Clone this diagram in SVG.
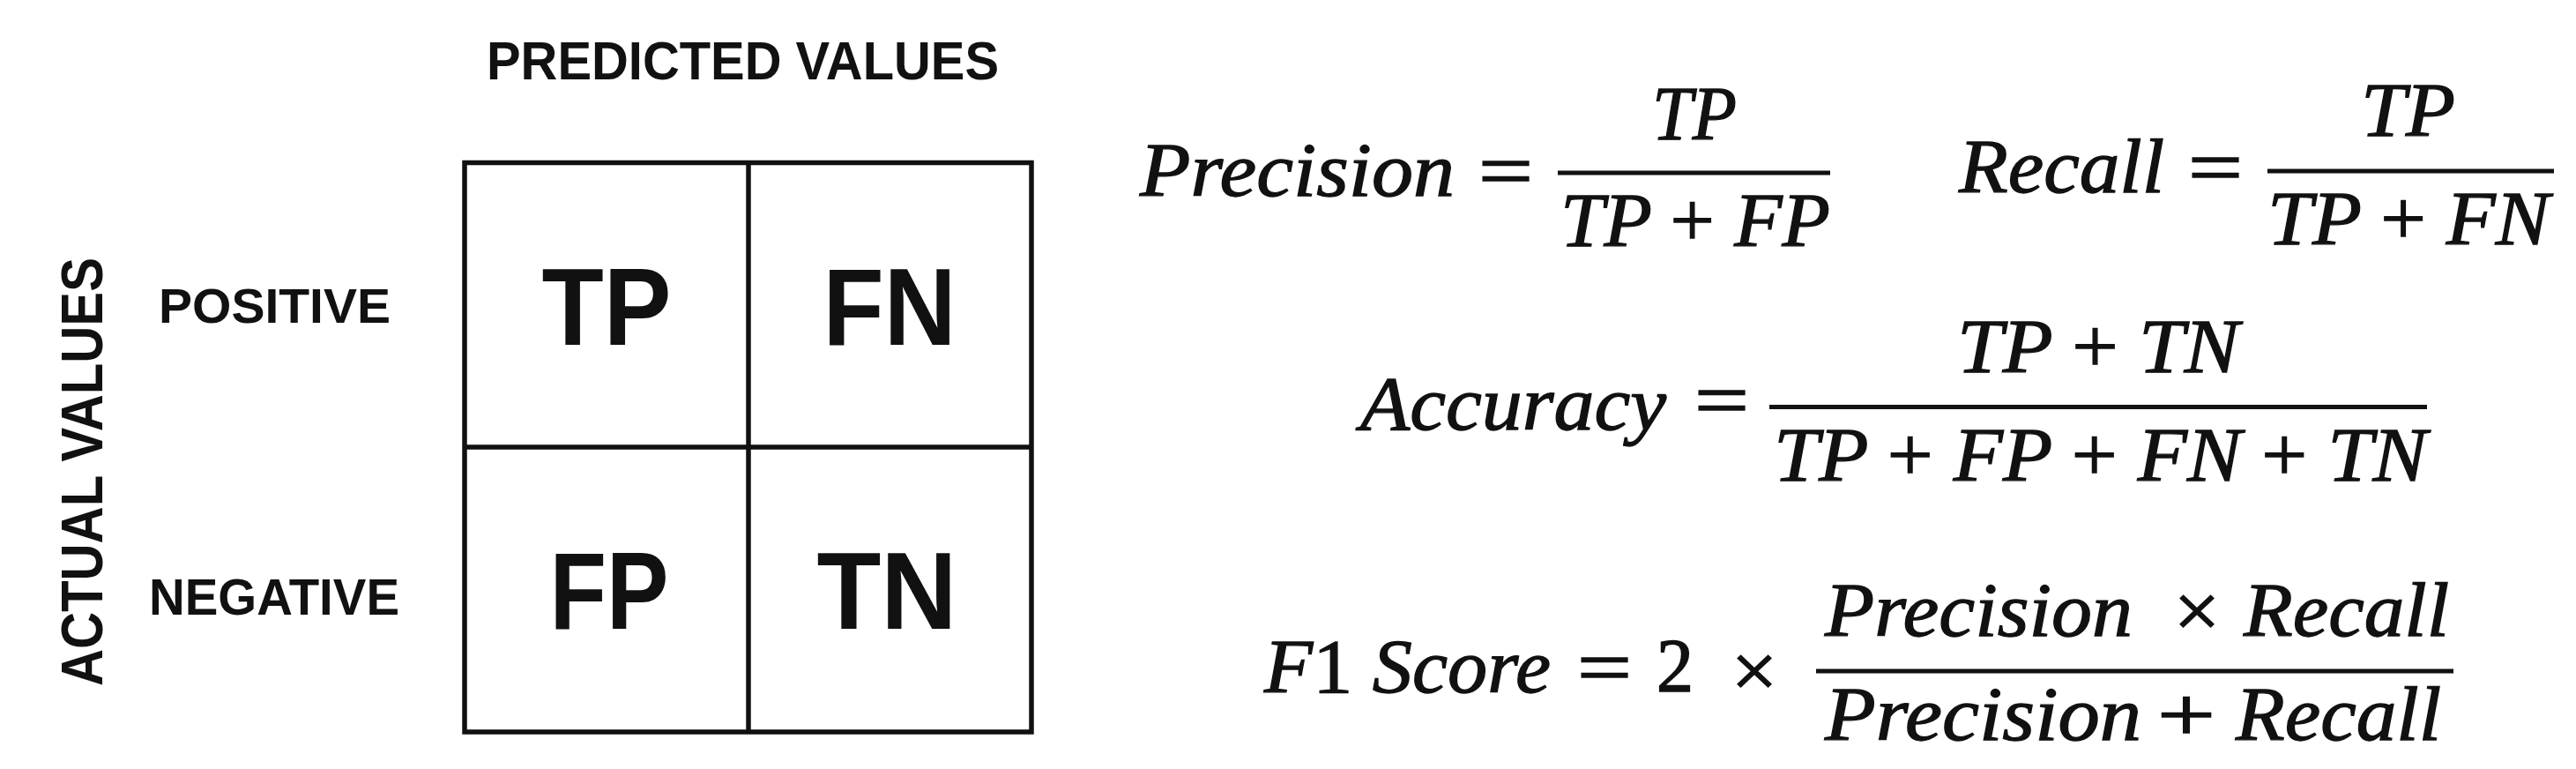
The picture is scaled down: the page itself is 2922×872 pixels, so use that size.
<svg xmlns="http://www.w3.org/2000/svg" width="2922" height="872" viewBox="0 0 2922 872">
<style>
.lab{font-family:"Liberation Sans",Arial,sans-serif;font-weight:bold;fill:#111}
.cell{font-family:"Liberation Sans",Arial,sans-serif;font-weight:bold;font-size:124px;fill:#111;text-anchor:middle}
.m{font-family:"Liberation Serif","Times New Roman",serif;font-style:italic;font-size:87px;fill:#111;stroke:#111;stroke-width:1.3}
.op{font-family:"Liberation Serif","Times New Roman",serif;font-style:normal;font-size:87px;fill:#111;stroke:#111;stroke-width:1.6;text-anchor:middle}
.grid{stroke:#111;stroke-width:5.5;fill:none}
.bar{fill:#111}
</style>
<rect x="0" y="0" width="2922" height="872" fill="#fff"/>

<g id="axis-labels">
<text class="lab" x="552" y="90" font-size="61" textLength="581" lengthAdjust="spacingAndGlyphs">PREDICTED VALUES</text>
<text class="lab" font-size="67" transform="translate(116,778) rotate(-90)" textLength="486" lengthAdjust="spacingAndGlyphs">ACTUAL VALUES</text>
<text class="lab" x="180" y="366" font-size="55" textLength="263" lengthAdjust="spacingAndGlyphs">POSITIVE</text>
<text class="lab" x="169" y="697" font-size="57" textLength="284" lengthAdjust="spacingAndGlyphs">NEGATIVE</text>
</g>

<g id="matrix">
<rect class="grid" x="527" y="184.5" width="643" height="645.5"/>
<line class="grid" x1="849" y1="184.5" x2="849" y2="830"/>
<line class="grid" x1="527" y1="507" x2="1170" y2="507"/>
</g>

<g id="cell-tp"><text class="cell" x="688" y="391" textLength="147" lengthAdjust="spacingAndGlyphs">TP</text></g>
<g id="cell-fn"><text class="cell" x="1009" y="391" textLength="151" lengthAdjust="spacingAndGlyphs">FN</text></g>
<g id="cell-fp"><text class="cell" x="691" y="713" textLength="135" lengthAdjust="spacingAndGlyphs">FP</text></g>
<g id="cell-tn"><text class="cell" x="1006" y="713" textLength="159" lengthAdjust="spacingAndGlyphs">TN</text></g>

<g id="precision">
<text class="m" x="1293" y="222" textLength="357" lengthAdjust="spacingAndGlyphs">Precision</text>
<text class="op" x="1708" y="223" textLength="62" lengthAdjust="spacingAndGlyphs">=</text>
<text class="m" x="1874" y="158" textLength="96" lengthAdjust="spacingAndGlyphs">TP</text>
<rect class="bar" x="1767" y="193.5" width="309" height="5"/>
<text class="m" x="1770" y="279" textLength="306" lengthAdjust="spacingAndGlyphs">TP <tspan font-style="normal">+</tspan> FP</text>
</g>

<g id="recall">
<text class="m" x="2222" y="218" textLength="233" lengthAdjust="spacingAndGlyphs">Recall</text>
<text class="op" x="2513" y="219" textLength="62" lengthAdjust="spacingAndGlyphs">=</text>
<text class="m" x="2678" y="154" textLength="107" lengthAdjust="spacingAndGlyphs">TP</text>
<rect class="bar" x="2572" y="191.5" width="325" height="5"/>
<text class="m" x="2572" y="277" textLength="320" lengthAdjust="spacingAndGlyphs">TP <tspan font-style="normal">+</tspan> FN</text>
</g>

<g id="accuracy">
<text class="m" x="1543" y="487" textLength="347" lengthAdjust="spacingAndGlyphs">Accuracy</text>
<text class="op" x="1953" y="483" textLength="62" lengthAdjust="spacingAndGlyphs">=</text>
<text class="m" x="2220" y="422" textLength="320" lengthAdjust="spacingAndGlyphs">TP <tspan font-style="normal">+</tspan> TN</text>
<rect class="bar" x="2007" y="459" width="746" height="5"/>
<text class="m" x="2012" y="545" textLength="741" lengthAdjust="spacingAndGlyphs">TP <tspan font-style="normal">+</tspan> FP <tspan font-style="normal">+</tspan> FN <tspan font-style="normal">+</tspan> TN</text>
</g>

<g id="f1">
<text class="m" x="1434" y="785" textLength="325" lengthAdjust="spacingAndGlyphs">F<tspan font-style="normal">1</tspan> Score</text>
<text class="op" x="1820" y="786" textLength="62" lengthAdjust="spacingAndGlyphs">=</text>
<text class="op" x="1900" y="784" textLength="42" lengthAdjust="spacingAndGlyphs">2</text>
<text class="op" x="1990" y="790" textLength="52" lengthAdjust="spacingAndGlyphs">×</text>
<rect class="bar" x="2060" y="758.5" width="723" height="5"/>
<text class="m" x="2070" y="721" textLength="349" lengthAdjust="spacingAndGlyphs">Precision</text>
<text class="op" x="2492" y="722" textLength="52" lengthAdjust="spacingAndGlyphs">×</text>
<text class="m" x="2545" y="721" textLength="233" lengthAdjust="spacingAndGlyphs">Recall</text>
<text class="m" x="2070" y="839" textLength="359" lengthAdjust="spacingAndGlyphs">Precision</text>
<text class="op" x="2480" y="840" textLength="66" lengthAdjust="spacingAndGlyphs">+</text>
<text class="m" x="2536" y="839" textLength="233" lengthAdjust="spacingAndGlyphs">Recall</text>
</g>
</svg>
